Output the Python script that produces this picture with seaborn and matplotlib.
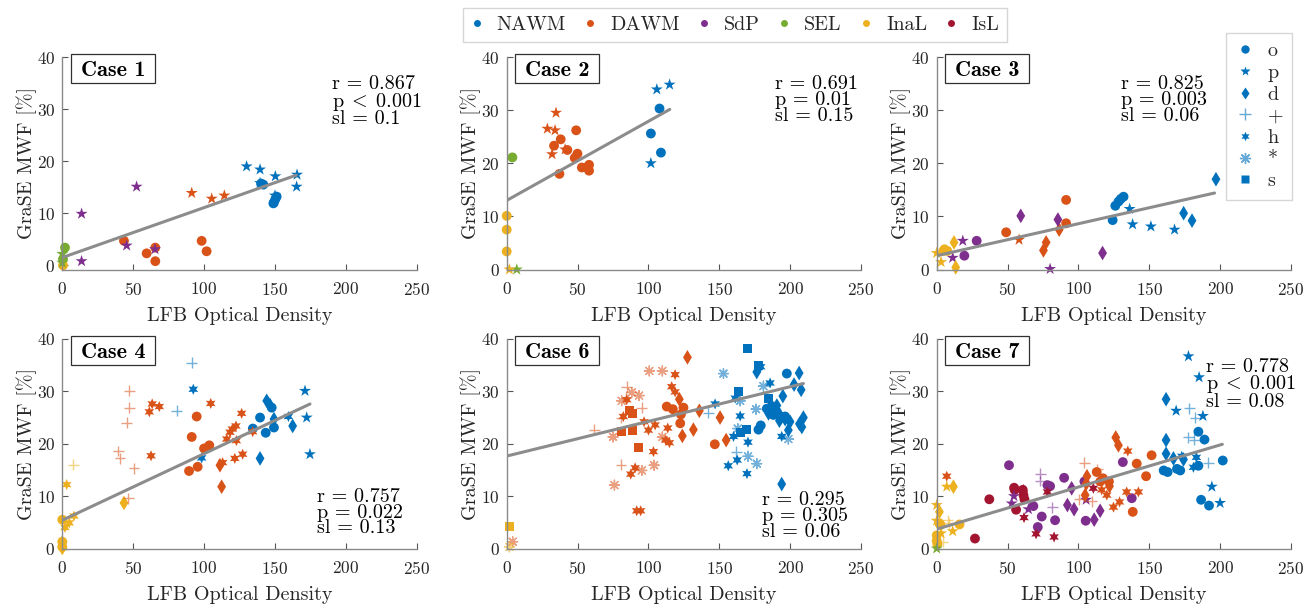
import numpy as np
import pandas as pd
import matplotlib
matplotlib.use("Agg")
import matplotlib.pyplot as plt
import seaborn as sns
from matplotlib.lines import Line2D
from matplotlib.patches import Rectangle

# ---------------- data ----------------
tissue_codes = ["N", "D", "S", "E", "I", "L"]
tissue_names = ["NAWM", "DAWM", "SdP", "SEL", "InaL", "IsL"]
tissue_colors = ["#0072BD", "#D95319", "#7E2F8E", "#77AC30", "#EDB120", "#A2142F"]
marker_codes = ["o", "p", "d", "+", "h", "*", "s"]

case_names = ["Case 1", "Case 2", "Case 3", "Case 4", "Case 6", "Case 7"]
r_values = ["0.867", "0.691", "0.825", "0.757", "0.295", "0.778"]
p_relations = ["<", "=", "=", "=", "=", "<"]
p_values = ["0.001", "0.01", "0.003", "0.022", "0.305", "0.001"]
sl_values = ["0.1", "0.15", "0.06", "0.13", "0.06", "0.08"]
fit_intercepts = [1.5, 13.0, 2.6, 5.4, 17.65, 3.7]
fit_slopes = [0.0958, 0.149, 0.0602, 0.127, 0.0662, 0.0804]
fit_x_start = [0, 0, 0, 0, 1, 0]
fit_x_end = [165, 115, 196, 174.7, 209.3, 201.5]

# (tissue, marker, LFB OD, MWF)
case1_points = [
    ("N", "p", 130, 19.0), ("N", "p", 139.5, 18.4), ("N", "p", 150.3, 17.1), ("N", "p", 165.6, 17.4),
    ("N", "p", 165.3, 15.1), ("N", "p", 139.5, 15.8), ("N", "p", 150, 13.4),
    ("N", "o", 141.8, 15.5), ("N", "o", 140.2, 15.7), ("N", "o", 149.3, 12.1), ("N", "o", 151.2, 13.2),
    ("N", "o", 150.3, 12.7), ("N", "o", 148.9, 11.9),
    ("D", "p", 91.3, 13.9), ("D", "p", 105.4, 12.8), ("D", "p", 114.3, 13.4),
    ("D", "o", 43.5, 4.7), ("D", "o", 59.5, 2.3), ("D", "o", 65.6, 3.4), ("D", "o", 65.6, 0.8),
    ("D", "o", 98.3, 4.7), ("D", "o", 101.8, 2.7),
    ("S", "p", 13.6, 9.9), ("S", "p", 52.4, 15.1), ("S", "p", 45.4, 3.8), ("S", "p", 65.4, 3.1), ("S", "p", 13.6, 0.8),
    ("E", "o", 1.9, 3.4), ("E", "p", 0, 2.2), ("E", "o", 0.5, 1.2), ("E", "p", 0, 0.5),
    ("I", "o", 0.5, 0.0),
]
case2_points = [
    ("N", "p", 105.9, 33.9), ("N", "p", 114.9, 34.8), ("N", "p", 101.7, 20.0),
    ("N", "o", 107.8, 30.3), ("N", "o", 101.7, 25.6), ("N", "o", 108.8, 22.0),
    ("D", "p", 34.8, 29.5), ("D", "p", 28.7, 26.5), ("D", "p", 34.1, 26.2), ("D", "p", 32.0, 21.7), ("D", "p", 41.2, 22.6),
    ("D", "o", 33.4, 23.3), ("D", "o", 38.1, 24.5), ("D", "o", 42.8, 22.5), ("D", "o", 49.0, 26.2),
    ("D", "o", 49.9, 21.8), ("D", "o", 48.0, 21.0), ("D", "o", 37.2, 18.0), ("D", "o", 53.0, 19.2),
    ("D", "o", 58.1, 19.7), ("D", "o", 58.1, 18.6), ("D", "o", 56.5, 19.2),
    ("E", "o", 4.0, 21.1), ("E", "p", 7.1, 0.0),
    ("I", "o", 0, 10.1), ("I", "o", 0, 7.5), ("I", "o", 0, 3.4), ("I", "p", 1.9, 0.0),
]
case3_points = [
    ("N", "o", 124.1, 9.3), ("N", "o", 126, 12.0), ("N", "o", 128.3, 12.8), ("N", "o", 129.9, 13.3), ("N", "o", 131.8, 13.7),
    ("N", "p", 136.1, 11.4), ("N", "p", 138.2, 8.5), ("N", "p", 151.1, 8.1), ("N", "p", 167.8, 7.5),
    ("N", "d", 197, 17.0), ("N", "d", 174.2, 10.6), ("N", "d", 180.1, 9.2),
    ("D", "o", 49.0, 7.0), ("D", "o", 91.3, 13.1), ("D", "o", 91.3, 8.7),
    ("D", "p", 58.1, 5.6),
    ("D", "d", 77.2, 5.1), ("D", "d", 75.3, 3.6), ("D", "d", 86.4, 7.5),
    ("S", "d", 59.3, 10.1), ("S", "d", 85.5, 9.4), ("S", "d", 117, 3.1),
    ("S", "o", 28.2, 5.4), ("S", "o", 19.5, 2.6),
    ("S", "p", 18.4, 5.4), ("S", "p", 11.3, 2.2), ("S", "p", 80, 0.1),
    ("I", "p", 0, 3.1), ("I", "p", 3.1, 1.4), ("I", "o", 4.7, 3.5), ("I", "o", 7.5, 3.5), ("I", "o", 5.5, 3.8),
    ("I", "d", 12.2, 5.1), ("I", "d", 13.4, 0.4),
]
case4_points = [
    ("N", "+", 91.3, 35.5), ("N", "+", 80.7, 26.3),
    ("N", "h", 92.4, 30.4), ("N", "h", 98.3, 17.3), ("N", "h", 159.5, 25.2),
    ("N", "p", 171.2, 30.1), ("N", "p", 172.4, 25.0), ("N", "p", 174.7, 18.0),
    ("N", "o", 139.5, 25.0), ("N", "o", 134.4, 22.9), ("N", "o", 143.5, 22.1), ("N", "o", 149.3, 23.1), ("N", "o", 147.7, 26.9),
    ("N", "d", 144.2, 28.2), ("N", "d", 146.5, 27.4), ("N", "d", 162.5, 23.4), ("N", "d", 139.5, 17.2), ("N", "d", 149.3, 24.7),
    ("D", "o", 91.3, 21.3), ("D", "o", 94.8, 25.2), ("D", "o", 89.4, 14.8), ("D", "o", 95.5, 15.6),
    ("D", "o", 100, 19.1), ("D", "o", 103, 19.4), ("D", "o", 103.7, 19.7),
    ("D", "h", 61.4, 26.1), ("D", "h", 63.4, 27.6), ("D", "h", 68.4, 27.1), ("D", "h", 104.7, 27.7), ("D", "h", 62.6, 17.7),
    ("D", "h", 126.5, 25.8), ("D", "h", 122.5, 23.4), ("D", "h", 119.9, 22.8), ("D", "h", 118.3, 22.2), ("D", "h", 116, 20.9),
    ("D", "h", 122.8, 20.6), ("D", "h", 121.7, 17.2), ("D", "h", 127.2, 18.0), ("D", "h", 134.3, 22.3), ("D", "h", 113.1, 16.4),
    ("D", "d", 111.2, 15.9), ("D", "d", 112.4, 11.8),
    ("D", "+", 47.3, 30.1), ("D", "+", 47.3, 26.9), ("D", "+", 45.4, 24.0), ("D", "+", 39.5, 18.6),
    ("D", "+", 40.7, 17.2), ("D", "+", 50.6, 15.3), ("D", "+", 46.6, 9.6),
    ("I", "+", 7.8, 16.0),
    ("I", "h", 3.1, 12.2), ("I", "h", 8.2, 6.2), ("I", "h", 4.9, 4.9), ("I", "h", 1.9, 4.0),
    ("I", "o", 0, 5.5), ("I", "o", 0, 1.3), ("I", "o", 0, 0.3),
    ("I", "d", 43.5, 8.7), ("I", "d", 0, 1.1), ("I", "d", 0, 0.1),
]
case6_points = [
    ("D", "d", 127.5, 36.5), ("D", "d", 121.8, 28.5), ("D", "d", 123.9, 21.5), ("D", "d", 135.9, 26.3),
    ("D", "d", 150.5, 25.0), ("D", "d", 131.7, 22.7), ("D", "d", 154.8, 20.7),
    ("D", "*", 100.6, 33.9), ("D", "*", 109.8, 33.9), ("D", "*", 88.2, 29.8), ("D", "*", 93.4, 29.2), ("D", "*", 81.1, 28.2),
    ("D", "*", 75, 21.3), ("D", "*", 109.8, 21.3), ("D", "*", 95.3, 14.9), ("D", "*", 104, 15.9), ("D", "*", 76, 12.1),
    ("D", "*", 4.2, 1.3),
    ("D", "h", 118.8, 33.2), ("D", "h", 116.4, 30.9), ("D", "h", 118.8, 29.9), ("D", "h", 84.7, 28.4), ("D", "h", 82.3, 25.2),
    ("D", "h", 96.9, 24.2), ("D", "h", 100, 22.6), ("D", "h", 104.7, 23.6), ("D", "h", 113.6, 23.0), ("D", "h", 112.2, 20.7),
    ("D", "h", 114.8, 20.2), ("D", "h", 103.5, 18.5), ("D", "h", 90.6, 15.4), ("D", "h", 87.5, 14.2), ("D", "h", 91.7, 7.2),
    ("D", "h", 94.5, 7.2),
    ("D", "+", 84.7, 30.9), ("D", "+", 84.2, 28.8), ("D", "+", 95.3, 26.9), ("D", "+", 80.7, 24.9), ("D", "+", 61.9, 22.7),
    ("D", "+", 80.7, 16.0),
    ("D", "s", 86.6, 26.3), ("D", "s", 89, 25.8), ("D", "s", 80.7, 22.3), ("D", "s", 88.7, 22.5), ("D", "s", 92.9, 19.3),
    ("D", "o", 112.9, 27.1), ("D", "o", 117.2, 26.6), ("D", "o", 124.7, 26.9), ("D", "o", 122.9, 25.6), ("D", "o", 122.4, 23.9),
    ("D", "o", 146.8, 19.9),
    ("I", "s", 2.3, 4.2), ("I", "*", 1.9, 0.3),
    ("N", "s", 169.8, 38.2), ("N", "s", 177.6, 35.0), ("N", "s", 163.7, 30.0), ("N", "s", 184.6, 28.7), ("N", "s", 164.7, 22.1),
    ("N", "s", 169, 22.8),
    ("N", "*", 152.9, 33.4), ("N", "*", 181.1, 31.0), ("N", "*", 164.7, 28.2), ("N", "*", 175.9, 26.6), ("N", "*", 163, 22.9),
    ("N", "*", 198.7, 20.9), ("N", "*", 170.2, 17.6), ("N", "*", 176.4, 16.2),
    ("N", "d", 176.4, 33.7), ("N", "d", 206.3, 33.5), ("N", "d", 202.7, 31.3), ("N", "d", 207.7, 30.3), ("N", "d", 194.8, 29.1),
    ("N", "d", 190.6, 27.3), ("N", "d", 184.7, 25.8), ("N", "d", 192.4, 24.4), ("N", "d", 196.4, 24.7), ("N", "d", 199.9, 24.2),
    ("N", "d", 209.3, 25.0), ("N", "d", 206.5, 23.8), ("N", "d", 208.2, 23.2), ("N", "d", 198.7, 22.6), ("N", "d", 194, 12.3),
    ("N", "h", 179.2, 34.7), ("N", "h", 185.8, 31.6), ("N", "h", 161.2, 28.7), ("N", "h", 147, 27.6), ("N", "h", 164.7, 25.3),
    ("N", "h", 160, 21.4), ("N", "h", 170.2, 20.3), ("N", "h", 194, 21.4), ("N", "h", 162.6, 16.9), ("N", "h", 156.3, 15.8),
    ("N", "h", 169.5, 14.3),
    ("N", "o", 197.6, 33.4), ("N", "o", 183.5, 26.7), ("N", "o", 187, 27.2), ("N", "o", 190.6, 26.1), ("N", "o", 188.2, 25.5),
    ("N", "o", 192.9, 25.3), ("N", "o", 196.4, 25.2), ("N", "o", 179.2, 23.5), ("N", "o", 177.6, 22.7),
    ("N", "+", 142.3, 25.9), ("N", "+", 162, 18.5),
]
case7_points = [
    ("I", "p", 0, 8.3), ("I", "p", 0, 5.3), ("I", "p", 7.1, 11.8), ("I", "p", 11.3, 3.3), ("I", "p", 3.1, 2.9),
    ("I", "d", 1.9, 7.0), ("I", "d", 11.8, 11.8),
    ("I", "o", 1.9, 4.8), ("I", "o", 2.7, 4.5), ("I", "o", 16.1, 4.6), ("I", "o", 0, 2.5), ("I", "o", 0, 1.5), ("I", "o", 0.5, 0.8),
    ("I", "+", 7.8, 5.4), ("I", "+", 9, 4.8), ("I", "+", 4.3, 1.3),
    ("E", "p", 0, 0.0),
    ("L", "o", 37.1, 9.4), ("L", "o", 27, 1.9), ("L", "o", 54.6, 11.6), ("L", "o", 55, 11.2), ("L", "o", 60.7, 11.2),
    ("L", "o", 61.2, 10.2), ("L", "o", 61.9, 9.4), ("L", "o", 56, 7.4),
    ("L", "d", 61.2, 10.9),
    ("L", "h", 78.1, 10.8), ("L", "h", 61.6, 5.9), ("L", "h", 70.1, 2.8), ("L", "h", 82.8, 2.2), ("L", "h", 110.5, 11.5),
    ("S", "o", 51, 15.9), ("S", "o", 78.1, 12.1), ("S", "o", 80, 11.9), ("S", "o", 89.9, 13.5), ("S", "o", 104.2, 12.8),
    ("S", "o", 68.2, 8.1), ("S", "o", 74.1, 6.1), ("S", "o", 83.5, 5.4), ("S", "o", 71.3, 4.1), ("S", "o", 105.1, 5.3),
    ("S", "o", 131.3, 16.5), ("S", "o", 137.6, 9.6),
    ("S", "d", 95.2, 11.5), ("S", "d", 92.2, 8.3), ("S", "d", 96.9, 7.5), ("S", "d", 115.3, 7.2), ("S", "d", 111.1, 5.5),
    ("S", "p", 52.9, 8.6), ("S", "p", 54.5, 10.0), ("S", "p", 64.7, 7.5), ("S", "p", 105.4, 9.3),
    ("S", "+", 73, 14.3), ("S", "+", 73, 12.9), ("S", "+", 81.6, 7.9),
    ("D", "d", 126.3, 21.2), ("D", "d", 128.2, 19.7), ("D", "d", 106, 13.8), ("D", "d", 105.5, 12.4), ("D", "d", 121.9, 11.9),
    ("D", "d", 104.7, 10.2),
    ("D", "h", 134.8, 18.6), ("D", "h", 116.4, 11.2), ("D", "h", 120, 10.2), ("D", "h", 134, 10.8), ("D", "h", 129, 8.9),
    ("D", "h", 124.7, 7.9), ("D", "h", 142.3, 10.8), ("D", "h", 7.1, 13.8),
    ("D", "+", 104.2, 16.4), ("D", "+", 113.4, 15.1), ("D", "+", 100.7, 9.4), ("D", "+", 109.3, 9.0),
    ("D", "o", 112.9, 14.6), ("D", "o", 117.3, 13.4), ("D", "o", 115.4, 12.8), ("D", "o", 121.5, 12.8), ("D", "o", 138.3, 7.0),
    ("D", "o", 141.1, 16.2), ("D", "o", 151.6, 17.8), ("D", "o", 147.7, 13.8),
    ("N", "p", 177.6, 36.7), ("N", "p", 185.1, 32.7), ("N", "p", 168.9, 26.3), ("N", "p", 187.8, 25.3), ("N", "p", 194.1, 11.8),
    ("N", "p", 199.9, 8.7),
    ("N", "d", 161.8, 28.5), ("N", "d", 161.8, 20.7), ("N", "d", 161.8, 18.1), ("N", "d", 167, 17.2), ("N", "d", 174.1, 17.0),
    ("N", "+", 178.3, 26.8), ("N", "+", 182.3, 25.0), ("N", "+", 177.6, 21.2), ("N", "+", 181.6, 20.8), ("N", "+", 191.7, 16.4),
    ("N", "o", 184.6, 22.3), ("N", "o", 188.9, 20.8), ("N", "o", 201.8, 16.8), ("N", "o", 160.1, 14.9), ("N", "o", 162.9, 14.6),
    ("N", "o", 169.5, 15.2), ("N", "o", 171.8, 14.9), ("N", "o", 184.6, 15.8), ("N", "o", 186.5, 9.3), ("N", "o", 192.1, 8.2),
    ("N", "h", 183.2, 17.4), ("N", "h", 172.9, 17.6), ("N", "h", 181.1, 15.5),
]
all_cases = [case1_points, case2_points, case3_points, case4_points, case6_points, case7_points]

# ---------------- style ----------------
sns.set_style("ticks")
plt.rcParams["font.family"] = ["cmr10", "DejaVu Serif"]
plt.rcParams["mathtext.fontset"] = "cm"
plt.rcParams["axes.formatter.use_mathtext"] = True

palette = dict(zip(tissue_codes, tissue_colors))
mpl_markers = {"o": "o", "p": "*", "d": "d", "+": "+", "h": (6, 1, 0), "*": (8, 2, 0), "s": "s"}
marker_sizes = {"o": 50, "p": 82, "d": 56, "+": 60, "h": 64, "*": 50, "s": 42}
line_markers = {"+", "*"}

fig = plt.figure(figsize=(13.06, 6.06), dpi=100)
W, H = 1306, 606
ax_w = 354.4 / W
lefts = [62.3 / W, 506.7 / W, 936.7 / W]
row_bottom_px = [269.5, 548.5]
row_top_px = [57.0, 339.0]
ymins = [-0.8, 0, 0, 0, 0, 0]
stat_pos = [(0.762, 0.915), (0.758, 0.915), (0.52, 0.915), (0.72, 0.29), (0.72, 0.275), (0.76, 0.91)]

for i, pts in enumerate(all_cases):
    row, col = divmod(i, 3)
    ah = (row_bottom_px[row] - row_top_px[row]) / H
    ax = fig.add_axes([lefts[col], 1 - row_bottom_px[row] / H, ax_w, ah])
    df = pd.DataFrame(pts, columns=["tissue", "marker", "x", "y"])
    for m in marker_codes:
        sub = df[df["marker"] == m]
        if sub.empty:
            continue
        if m in line_markers:
            sns.scatterplot(data=sub, x="x", y="y", hue="tissue", palette=palette, marker=mpl_markers[m],
                            s=marker_sizes[m], linewidth=1.0, alpha=0.55, legend=False, ax=ax,
                            clip_on=False, zorder=2)
        else:
            sns.scatterplot(data=sub, x="x", y="y", hue="tissue", palette=palette, marker=mpl_markers[m],
                            s=marker_sizes[m], linewidth=0, edgecolor="none", legend=False, ax=ax,
                            clip_on=False, zorder=2)
    xs = np.array([fit_x_start[i], fit_x_end[i]])
    sns.lineplot(x=xs, y=fit_intercepts[i] + fit_slopes[i] * xs, color="#8c8c8c", lw=2.2, ax=ax, zorder=3)

    ax.set_xlim(0, 250)
    ax.set_ylim(ymins[i], 40)
    ax.set_xticks([0, 50, 100, 150, 200, 250])
    ax.set_yticks([0, 10, 20, 30, 40])
    ax.tick_params(direction="in", length=4, width=0.8, color="#555555", labelsize=12.5,
                   labelcolor="#262626", pad=5)
    ax.tick_params(axis="x", pad=8.5)
    for s in ["top", "right"]:
        ax.spines[s].set_visible(False)
    for s in ["left", "bottom"]:
        ax.spines[s].set_color("#8a8a8a")
        ax.spines[s].set_linewidth(1.0)
    ax.set_xlabel("LFB Optical Density", fontsize=14.5, color="#262626", labelpad=6.0)
    ax.set_ylabel("GraSE MWF [%]", fontsize=14.5, color="#262626", labelpad=0)
    ax.patch.set_alpha(0)

    # case title box
    box_top = 1 + 3.5 / (ah * H)
    box_bot = 1 - 25.5 / (ah * H)
    bx0, bx1 = 8.4 / 354.4, 92.7 / 354.4
    ax.add_patch(Rectangle((bx0, box_bot), bx1 - bx0, box_top - box_bot, transform=ax.transAxes,
                           fc="white", ec="#303030", lw=0.9, clip_on=False, zorder=5))
    ax.text((bx0 + bx1) / 2, (box_top + box_bot) / 2, case_names[i], transform=ax.transAxes,
            ha="center", va="center_baseline", fontsize=16, family="cmb10", color="black", zorder=6)

    sx, sy = stat_pos[i]
    if p_relations[i] == "<":
        pline = f"p$\\;<\\;${p_values[i]}"
    else:
        pline = f"p = {p_values[i]}"
    stats = f"r = {r_values[i]}\n{pline}\nsl = {sl_values[i]}"
    ax.text(sx, sy, stats, transform=ax.transAxes, ha="left", va="top", fontsize=14.5,
            color="black", linespacing=0.85, zorder=5)

# tissue legend (top)
tissue_handles = [Line2D([], [], ls="none", marker="o", ms=5, mfc=c, mec="none", color=c) for c in tissue_colors]
fig.legend(tissue_handles, tissue_names, loc="center", bbox_to_anchor=(735 / W, 1 - 25 / H), ncol=6,
           frameon=True, fancybox=False, edgecolor="#cccccc", fontsize=14.5, handlelength=0.6,
           handletextpad=0.7, columnspacing=0.9, borderpad=0.4, borderaxespad=0)

# marker legend (right)
marker_handles = []
for m in marker_codes:
    if m in line_markers:
        marker_handles.append(Line2D([], [], ls="none", marker=mpl_markers[m], ms=8, color="#0072BD",
                                     alpha=0.6, mew=1.0))
    else:
        marker_handles.append(Line2D([], [], ls="none", marker=mpl_markers[m],
                                     ms=np.sqrt(marker_sizes[m]) * 0.85, mfc="#0072BD", mec="none"))
fig.legend(marker_handles, marker_codes, loc="upper right", bbox_to_anchor=(1292 / W, 1 - 33 / H),
           frameon=True, fancybox=False, edgecolor="#cccccc", fontsize=14.5, handlelength=1.0,
           handletextpad=0.6, labelspacing=0.18, borderpad=0.45, borderaxespad=0)

fig.savefig("out.png", dpi=100)
